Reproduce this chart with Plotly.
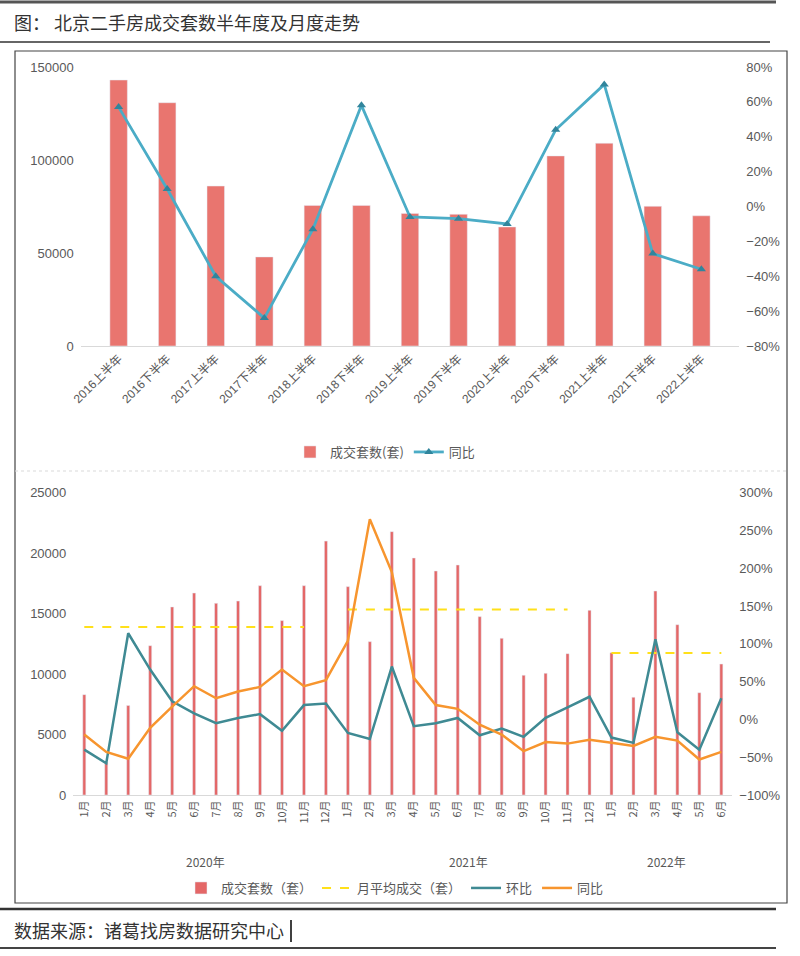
import plotly.graph_objects as go

# ---------------- data: half-year chart ----------------
half_periods = ["2016上半年", "2016下半年", "2017上半年", "2017下半年", "2018上半年", "2018下半年",
                "2019上半年", "2019下半年", "2020上半年", "2020下半年", "2021上半年", "2021下半年", "2022上半年"]
half_volume = [143000, 130800, 86000, 47900, 75600, 75600, 71300, 70800, 64000, 102200, 109000, 75100, 70000]
half_yoy = [0.57, 0.10, -0.40, -0.64, -0.13, 0.58, -0.06, -0.07, -0.10, 0.44, 0.70, -0.27, -0.36]

# ---------------- data: monthly chart ----------------
month_years = [2020] * 12 + [2021] * 12 + [2022] * 6
month_nums = list(range(1, 13)) + list(range(1, 13)) + list(range(1, 7))
month_volume = [8300, 2700, 7400, 12350, 15550, 16700, 15850, 16040, 17310, 14420, 17310, 21000,
                17230, 12680, 21780, 19600, 18525, 19020, 14750, 12960, 9900, 10060, 11690, 15270,
                11770, 8080, 16870, 14085, 8460, 10830]
month_avg = [13900] * 11 + [None] + [15350] * 11 + [None] + [11750] * 6
month_mom = [-0.40, -0.58, 1.14, 0.66, 0.24, 0.08, -0.05, 0.02, 0.07, -0.15, 0.19, 0.21,
             -0.18, -0.26, 0.70, -0.09, -0.05, 0.02, -0.21, -0.12, -0.23, 0.02, 0.16, 0.30,
             -0.24, -0.31, 1.06, -0.17, -0.40, 0.28]
month_yoy = [-0.20, -0.43, -0.52, -0.11, 0.17, 0.44, 0.28, 0.37, 0.43, 0.66, 0.44, 0.52,
             1.04, 2.65, 1.95, 0.55, 0.19, 0.14, -0.07, -0.20, -0.42, -0.30, -0.32, -0.27,
             -0.31, -0.35, -0.23, -0.28, -0.53, -0.43]

title_text = "图： 北京二手房成交套数半年度及月度走势"
source_text = "数据来源：诸葛找房数据研究中心"

W, H = 800, 956
def px(x):
    return x / W
def py(y):
    return 1 - y / H

month_cats = [f"{y}年{m}月" for y, m in zip(month_years, month_nums)]
month_labels = [f"{m}月" for m in month_nums]

TICK = dict(size=13, color="#595959", family="Liberation Sans, Noto Sans CJK SC")
CJK = "Noto Sans CJK SC"

fig = go.Figure()

# top chart
fig.add_trace(go.Bar(x=half_periods, y=half_volume, name="成交套数(套)", marker_color="#E9756F",
                     width=0.36, xaxis="x", yaxis="y", legend="legend"))
fig.add_trace(go.Scatter(x=half_periods, y=half_yoy, name="同比", mode="lines+markers",
                         line=dict(color="#4BACC6", width=2.8),
                         marker=dict(symbol="triangle-up", size=8, color="#31859C"),
                         xaxis="x", yaxis="y2", legend="legend"))

# bottom chart
fig.add_trace(go.Bar(x=month_cats, y=month_volume, name="成交套数（套）", marker_color="#E46767",
                     width=0.14, xaxis="x2", yaxis="y3", legend="legend2"))
fig.add_trace(go.Scatter(x=month_cats, y=month_avg, name="月平均成交（套）", mode="lines",
                         line=dict(color="#FFE01A", width=2, dash="dash"), connectgaps=False,
                         xaxis="x2", yaxis="y3", legend="legend2"))
fig.add_trace(go.Scatter(x=month_cats, y=month_mom, name="环比", mode="lines",
                         line=dict(color="#3F8A93", width=2.5),
                         xaxis="x2", yaxis="y4", legend="legend2"))
fig.add_trace(go.Scatter(x=month_cats, y=month_yoy, name="同比", mode="lines",
                         line=dict(color="#F7952E", width=2.5),
                         xaxis="x2", yaxis="y4", legend="legend2"))

# year group labels under the month axis
for yr in sorted(set(month_years)):
    idx = [i for i, y in enumerate(month_years) if y == yr]
    fig.add_annotation(x=sum(idx) / len(idx), y=py(861), xref="x2", yref="paper",
                       yanchor="middle", text=f"{yr}年", showarrow=False,
                       font=dict(size=12, color="#595959", family=CJK))

fig.add_annotation(x=px(12), y=py(22), xref="paper", yref="paper", xanchor="left",
                   yanchor="middle", text=title_text, showarrow=False,
                   font=dict(size=18, color="#333333", family=CJK))
fig.add_annotation(x=px(12), y=py(930), xref="paper", yref="paper", xanchor="left",
                   yanchor="middle", text=source_text, showarrow=False,
                   font=dict(size=18, color="#333333", family=CJK))

shapes = [
    dict(type="line", xref="paper", yref="paper", x0=0, x1=px(776), y0=py(2), y1=py(2),
         line=dict(color="#555555", width=3)),
    dict(type="line", xref="paper", yref="paper", x0=0, x1=px(770), y0=py(42), y1=py(42),
         line=dict(color="#666666", width=2)),
    dict(type="rect", xref="paper", yref="paper", x0=px(15), x1=px(787), y0=py(51), y1=py(903),
         line=dict(color="#444444", width=1.2)),
    dict(type="line", xref="paper", yref="paper", x0=px(15), x1=px(787), y0=py(471), y1=py(471),
         line=dict(color="#D9D9D9", width=1, dash="dot")),
    dict(type="line", xref="paper", yref="paper", x0=0, x1=px(776), y0=py(909), y1=py(909),
         line=dict(color="#333333", width=2.5)),
    dict(type="line", xref="paper", yref="paper", x0=0, x1=px(776), y0=py(948), y1=py(948),
         line=dict(color="#444444", width=2)),
    dict(type="line", xref="paper", yref="paper", x0=px(291), x1=px(291), y0=py(920), y1=py(942),
         line=dict(color="#000000", width=1.5)),
]

fig.update_layout(
    width=W, height=H,
    margin=dict(l=0, r=0, t=0, b=0, autoexpand=False),
    paper_bgcolor="white", plot_bgcolor="rgba(0,0,0,0)",
    font=dict(family=CJK, color="#595959"),
    shapes=shapes,
    bargap=0.6,
    xaxis=dict(domain=[px(80.7), px(739.3)], type="category", anchor="y", automargin=False,
               tickangle=-45, tickfont=dict(size=12, color="#595959", family=TICK["family"]),
               showline=True, linecolor="#D9D9D9", ticks="", showgrid=False),
    yaxis=dict(domain=[py(346), py(67)], range=[0, 150000], dtick=50000, anchor="x",
               tickformat="d", automargin=False,
               showgrid=False, zeroline=False, tickfont=TICK, ticklabelstandoff=6),
    yaxis2=dict(overlaying="y", side="right", anchor="x", range=[-0.8, 0.8], dtick=0.2,
                tickformat=".0%", showgrid=False, zeroline=False, tickfont=TICK,
                ticklabelstandoff=6, automargin=False),
    xaxis2=dict(domain=[px(73.3), px(732.3)], type="category", anchor="y3", automargin=False,
                tickmode="array", tickvals=month_cats, ticktext=month_labels,
                tickangle=-90, tickfont=dict(size=11, color="#595959", family=CJK),
                showline=True, linecolor="#D9D9D9", ticks="", showgrid=False),
    yaxis3=dict(domain=[py(795), py(492.7)], range=[0, 25000], dtick=5000, anchor="x2",
                tickformat="d", automargin=False,
                showgrid=False, zeroline=False, tickfont=TICK, ticklabelstandoff=6),
    yaxis4=dict(overlaying="y3", side="right", anchor="x2", range=[-1, 3], dtick=0.5,
                tickformat=".0%", showgrid=False, zeroline=False, tickfont=TICK,
                ticklabelstandoff=6, automargin=False),
    legend=dict(orientation="h", x=px(385), y=py(452), xanchor="center", yanchor="middle",
                font=dict(size=13, color="#595959", family=CJK), bgcolor="rgba(0,0,0,0)"),
    legend2=dict(orientation="h", x=px(395), y=py(888), xanchor="center", yanchor="middle",
                 font=dict(size=13, color="#595959", family=CJK), bgcolor="rgba(0,0,0,0)"),
    showlegend=True,
)

fig.write_html("out.html", config={"displayModeBar": False},
               post_script="document.body.style.margin='0';")
